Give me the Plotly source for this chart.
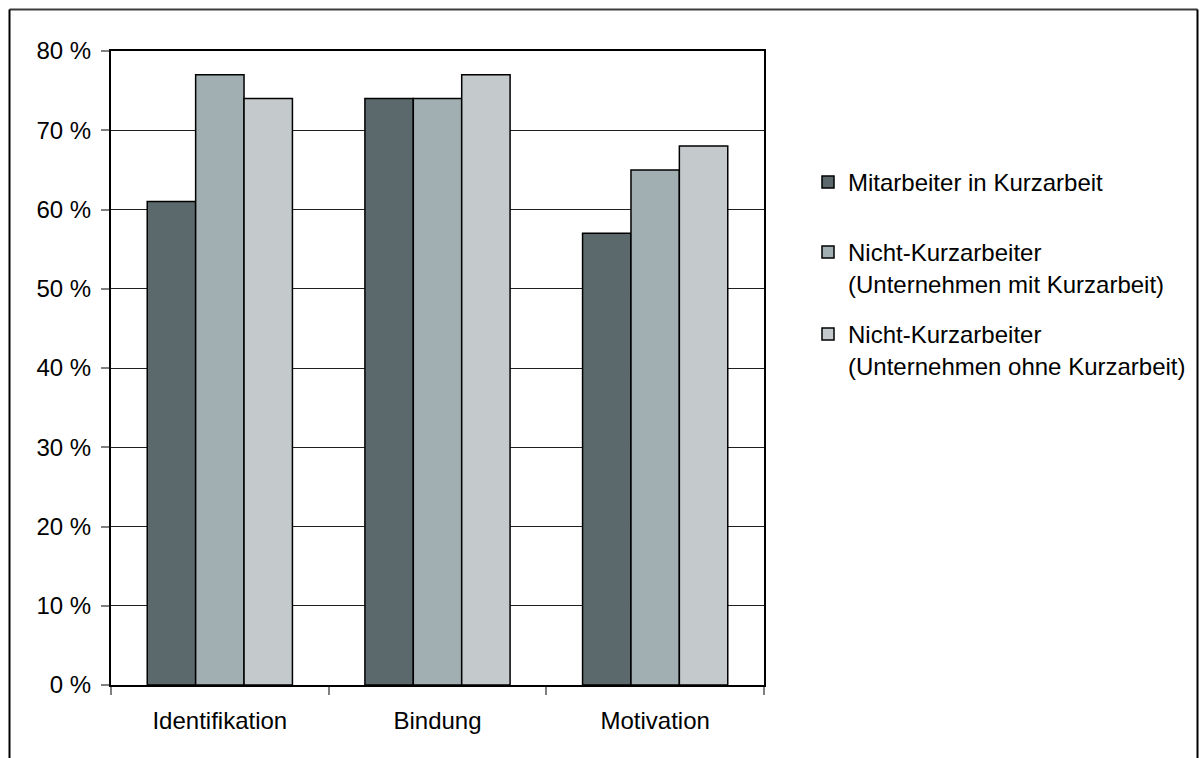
import plotly.graph_objects as go

categories = ["Identifikation", "Bindung", "Motivation"]
series_names = [
    "Mitarbeiter in Kurzarbeit",
    "Nicht-Kurzarbeiter<br>(Unternehmen mit Kurzarbeit)",
    "Nicht-Kurzarbeiter<br>(Unternehmen ohne Kurzarbeit)",
]
series_values = [
    [61, 74, 57],
    [77, 74, 65],
    [74, 77, 68],
]
series_colors = ["#5c696c", "#a1aeb2", "#c4c9cc"]
y_ticks = [0, 10, 20, 30, 40, 50, 60, 70, 80]
y_tick_labels = [f"{v} %" for v in y_ticks]

W, H = 1204, 758
L, R, T, B = 111, 440, 51, 73
pw, ph = W - L - R, H - T - B

def px_x(p):
    return (p - L) / pw

def px_y(p):
    return (H - B - p) / ph

legend_tops = [160, 230, 312]
legend_ids = ["legend", "legend2", "legend3"]

fig = go.Figure()
for name, vals, col, lid in zip(series_names, series_values, series_colors, legend_ids):
    fig.add_trace(go.Bar(
        x=categories, y=vals, name=name, legend=lid,
        marker=dict(color=col, line=dict(color="black", width=1.5)),
    ))

legend_common = dict(xanchor="left", yanchor="top", valign="top",
                     font=dict(size=24), itemwidth=30, bgcolor="rgba(0,0,0,0)")
legends = {}
for lid, top in zip(legend_ids, legend_tops):
    legends[lid] = dict(x=px_x(808), y=px_y(top), **legend_common)

border = dict(color="black", width=2)
fig.update_layout(
    width=W, height=H,
    margin=dict(l=L, r=R, t=T, b=B),
    paper_bgcolor="white", plot_bgcolor="white",
    font=dict(family="Liberation Sans, Arial", size=24, color="black"),
    barmode="group", bargap=0.333, bargroupgap=0,
    showlegend=True,
    **legends,
    xaxis=dict(
        showline=True, linecolor="black", linewidth=2, mirror=True,
        ticks="outside", ticklen=8, tickcolor="#808080", tickwidth=2,
        tickson="boundaries", showgrid=False, ticklabelstandoff=13,
    ),
    yaxis=dict(
        range=[0, 80], tickvals=y_ticks, ticktext=y_tick_labels,
        showline=True, linecolor="black", linewidth=2, mirror=True,
        ticks="outside", ticklen=8, tickcolor="#808080", tickwidth=2,
        showgrid=True, gridcolor="#202020", gridwidth=1, zeroline=False,
        ticklabelstandoff=5,
    ),
    shapes=[
        dict(type="line", xref="paper", yref="paper", x0=px_x(9.5), x1=px_x(1197.5),
             y0=px_y(9.5), y1=px_y(9.5), line=dict(color="#3c3c3c", width=2)),
        dict(type="line", xref="paper", yref="paper", x0=px_x(9.5), x1=px_x(9.5),
             y0=px_y(9.5), y1=px_y(760), line=border),
        dict(type="line", xref="paper", yref="paper", x0=px_x(1197.5), x1=px_x(1197.5),
             y0=px_y(9.5), y1=px_y(760), line=border),
    ],
)

fig.write_html("out.html", config={"displayModeBar": False},
               post_script="document.body.style.margin='0';")
